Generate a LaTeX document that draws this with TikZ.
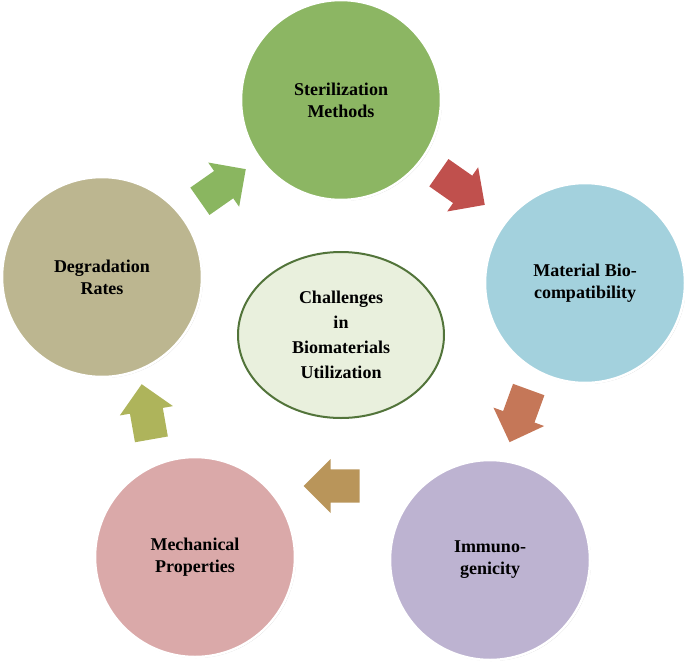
\documentclass[tikz,border=0pt]{standalone}
\usepackage{fontspec}
\setmainfont{Liberation Serif}
\usetikzlibrary{shapes.arrows,shapes.geometric,shadows}
\definecolor{cgreen}{HTML}{8CB663}
\definecolor{cblue}{HTML}{A3D1DD}
\definecolor{cpurple}{HTML}{BDB3D1}
\definecolor{cpink}{HTML}{DAA9A9}
\definecolor{ctan}{HTML}{BCB690}
\definecolor{ccenter}{HTML}{E9F0DD}
\definecolor{cborder}{HTML}{52743A}
\definecolor{agreen}{HTML}{8AB660}
\definecolor{ared}{HTML}{C0504D}
\definecolor{aorange}{HTML}{C57758}
\definecolor{atan}{HTML}{B9955A}
\definecolor{aolive}{HTML}{AEB45B}
\tikzset{
 bubble/.style={circle,minimum size=200pt,draw=white,line width=2.5pt,align=center,font=\bfseries\fontsize{18}{22}\selectfont,drop shadow={shadow xshift=1pt,shadow yshift=-1pt,opacity=.35}},
 blk/.style={single arrow,minimum height=56pt,minimum width=54pt,single arrow head extend=10pt,inner sep=16pt}
}
\begin{document}
\begin{tikzpicture}[x=1pt,y=-1pt]
\useasboundingbox (0,0) rectangle (685,664);
\node[bubble,fill=cgreen] (s) at (341,100) {Sterilization\\Methods};
\node[bubble,fill=cblue] (m) at (585,283) {Material Bio-\\compatibility};
\node[bubble,fill=cpurple] (i) at (490,560) {Immuno-\\genicity};
\node[bubble,fill=cpink] (p) at (195,557) {Mechanical\\Properties};
\node[bubble,fill=ctan] (d) at (102,277) {Degradation\\Rates};
\node[ellipse,minimum width=206pt,minimum height=166pt,fill=ccenter,draw=cborder,line width=2pt,align=center,font=\bfseries\fontsize{18}{25}\selectfont] (c) at (341,335) {Challenges\\in\\Biomaterials\\Utilization};
\node[blk,fill=agreen,rotate=35] (a1) at (216,190) {};
\node[blk,fill=ared,rotate=-35] (a2) at (455,184) {};
\node[blk,fill=aorange,rotate=-110] (a3) at (522,408) {};
\node[blk,fill=atan,rotate=180] (a4) at (340,486) {};
\node[blk,fill=aolive,rotate=100] (a5) at (148,420) {};
\end{tikzpicture}
\end{document}
